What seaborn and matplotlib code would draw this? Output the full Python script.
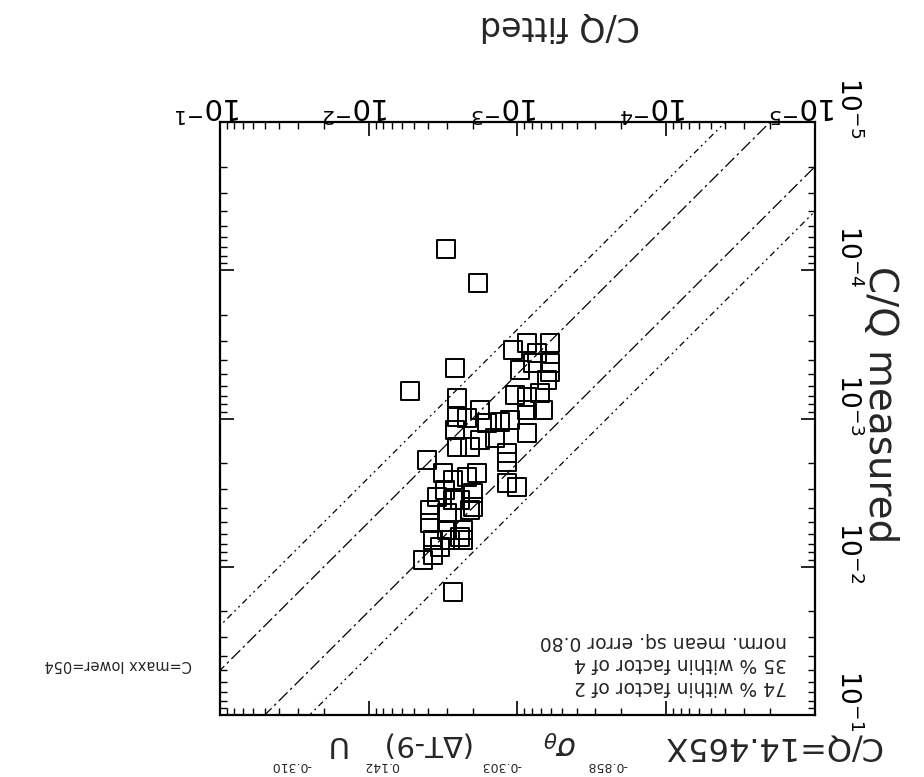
import matplotlib
matplotlib.use("Agg")
import matplotlib.pyplot as plt
import matplotlib.transforms as mtransforms
import seaborn as sns
import numpy as np
import pandas as pd

cq_fitted = [3.03e-3, 1.85e-3, 2.63e-3, 5.28e-3, 1.07e-3, 8.63e-4, 6.05e-4, 7.87e-4,
             6.05e-4, 6.05e-4, 6.34e-4, 8.63e-4, 7.06e-4, 8.63e-4, 6.75e-4, 2.55e-3,
             2.55e-3, 2.18e-3, 1.79e-3, 1.60e-3, 1.12e-3, 1.31e-3, 8.63e-4, 2.55e-3,
             2.08e-3, 1.79e-3, 1.18e-3, 1.18e-3, 4.06e-3, 3.17e-3, 2.72e-3, 2.18e-3,
             1.87e-3, 1.18e-3, 1.01e-3, 3.48e-3, 2.72e-3, 1.99e-3, 3.87e-3, 2.98e-3,
             2.08e-3, 3.87e-3, 2.98e-3, 2.32e-3, 3.70e-3, 2.84e-3, 2.32e-3, 4.31e-3,
             3.70e-3, 2.72e-3, 2.44e-3, 1.99e-3, 2.44e-3, 3.32e-3, 9.61e-4, 7.40e-4,
             1.42e-3, 2.63e-3, 3.07e-3, 1.04e-3]
cq_measured = [7.2e-5, 1.22e-4, 4.56e-4, 6.53e-4, 3.45e-4, 3.10e-4, 3.10e-4, 4.23e-4,
               4.23e-4, 4.85e-4, 5.50e-4, 7.16e-4, 6.73e-4, 8.77e-4, 8.77e-4, 7.28e-4,
               9.77e-4, 9.93e-4, 8.77e-4, 1.07e-3, 1.02e-3, 1.06e-3, 1.25e-3, 1.56e-3,
               1.56e-3, 1.40e-3, 1.71e-3, 1.97e-3, 1.91e-3, 2.33e-3, 2.60e-3, 2.48e-3,
               2.33e-3, 2.72e-3, 2.90e-3, 3.39e-3, 3.55e-3, 3.18e-3, 4.14e-3, 4.34e-3,
               4.14e-3, 5.07e-3, 5.65e-3, 5.65e-3, 6.60e-3, 6.60e-3, 6.60e-3, 9.00e-3,
               8.33e-3, 1.48e-2, 3.55e-3, 3.95e-3, 6.29e-3, 7.36e-3, 4.71e-4, 3.61e-4,
               1.35e-3, 1.20e-3, 3.03e-3, 6.95e-4]

factors = [2, 4]
decades = [1e-5, 1e-4, 1e-3, 1e-2, 1e-1]
decade_labels = [r"$10^{-5}$", r"$10^{-4}$", r"$10^{-3}$", r"$10^{-2}$", r"$10^{-1}$"]

stats_lines = ["74 % within factor of 2",
               "35 % within factor of 4",
               "norm. mean sq. error 0.80"]
fit_parts = ["C/Q=14.465X", "-0.858", r"$\sigma_\theta$", "-0.303",
             r"($\Delta$T-9)", "0.142", "U", "-0.310"]
run_note = "C=maxx lower=054"

df = pd.DataFrame({"fitted": cq_fitted, "measured": cq_measured})

sns.set_style("ticks")
plt.rcParams["font.family"] = ["DejaVu Sans"]

W, H = 924, 777
fig = plt.figure(figsize=(W / 100, H / 100), dpi=100)
fig.patch.set_facecolor("white")

# the scanned page is turned upside down: axes inverted, every text rotated
ax = fig.add_axes([220 / W, (H - 715) / H, 595 / W, 593 / H])
ax.set_xscale("log")
ax.set_yscale("log")

xx = np.array([1e-6, 1.0])
dash_styles = {2: (10, 3, 2, 3), 4: (5, 3, 1.5, 3, 1.5, 3)}
for k in factors:
    ax.plot(xx, xx * k, color="black", lw=0.9, dashes=dash_styles[k])
    ax.plot(xx, xx / k, color="black", lw=0.9, dashes=dash_styles[k])

sns.scatterplot(data=df, x="fitted", y="measured", ax=ax, marker="s", s=160,
                facecolors="none", edgecolors="black", linewidth=1.4, zorder=3)

ax.set_xlim(1e-1, 1e-5)
ax.set_ylim(1e-1, 1e-5)

ax.xaxis.tick_top()
ax.yaxis.tick_right()
ax.set_xticks(decades)
ax.set_xticklabels(decade_labels)
ax.set_yticks(decades)
ax.set_yticklabels(decade_labels)
ax.tick_params(which="both", direction="in", top=True, bottom=True,
               left=True, right=True, labeltop=True, labelbottom=False,
               labelleft=False, labelright=True, colors="black")
ax.tick_params(which="major", length=10, width=1.2)
ax.tick_params(which="minor", length=5, width=1)
ax.tick_params(axis="x", labelrotation=180, labelsize=21, pad=1)
ax.tick_params(axis="y", labelrotation=-90, labelsize=19, pad=14)

# tick labels in the scan sit a little off their ticks
lift = mtransforms.ScaledTranslation(0, 14 / 100, fig.dpi_scale_trans)
for t in ax.yaxis.get_major_ticks():
    t.label2.set_verticalalignment("center")
    t.label2.set_transform(t.label2.get_transform() + lift)
nudge = mtransforms.ScaledTranslation(-12 / 100, 0, fig.dpi_scale_trans)
for t in ax.xaxis.get_major_ticks():
    t.label2.set_transform(t.label2.get_transform() + nudge)

for sp in ax.spines.values():
    sp.set_linewidth(1.6)
    sp.set_color("black")

ax.set_xlabel("")
ax.set_ylabel("")
fig.text(560 / W, 1 - 26 / H, "C/Q fitted", rotation=180, fontsize=24,
         ha="center", va="center")
fig.text(880 / W, 1 - 405 / H, "C/Q measured", rotation=-90, fontsize=28,
         ha="center", va="center")

# statistics box (left-aligned in the original page, so right-aligned here)
fig.text(787 / W, 1 - 664 / H, "\n".join(stats_lines), rotation=180,
         fontsize=13.5, ha="right", va="center", multialignment="left",
         linespacing=1.25)

fig.text(118 / W, 1 - 664 / H, run_note, rotation=180, fontsize=10.5,
         ha="center", va="center")

# fitted relation printed above the frame (below it once turned over)
fit_pos = [(772, 746), (607, 765), (560, 742), (501, 765),
           (430, 744), (381, 765), (335, 744), (291, 765)]
fit_size = [23, 9, 22, 9, 21, 9, 21, 9]
for txt, (px, py), fs in zip(fit_parts, fit_pos, fit_size):
    fig.text(px / W, 1 - py / H, txt, rotation=180, fontsize=fs,
             ha="center", va="center")

fig.savefig("out.png", dpi=100, facecolor="white")
